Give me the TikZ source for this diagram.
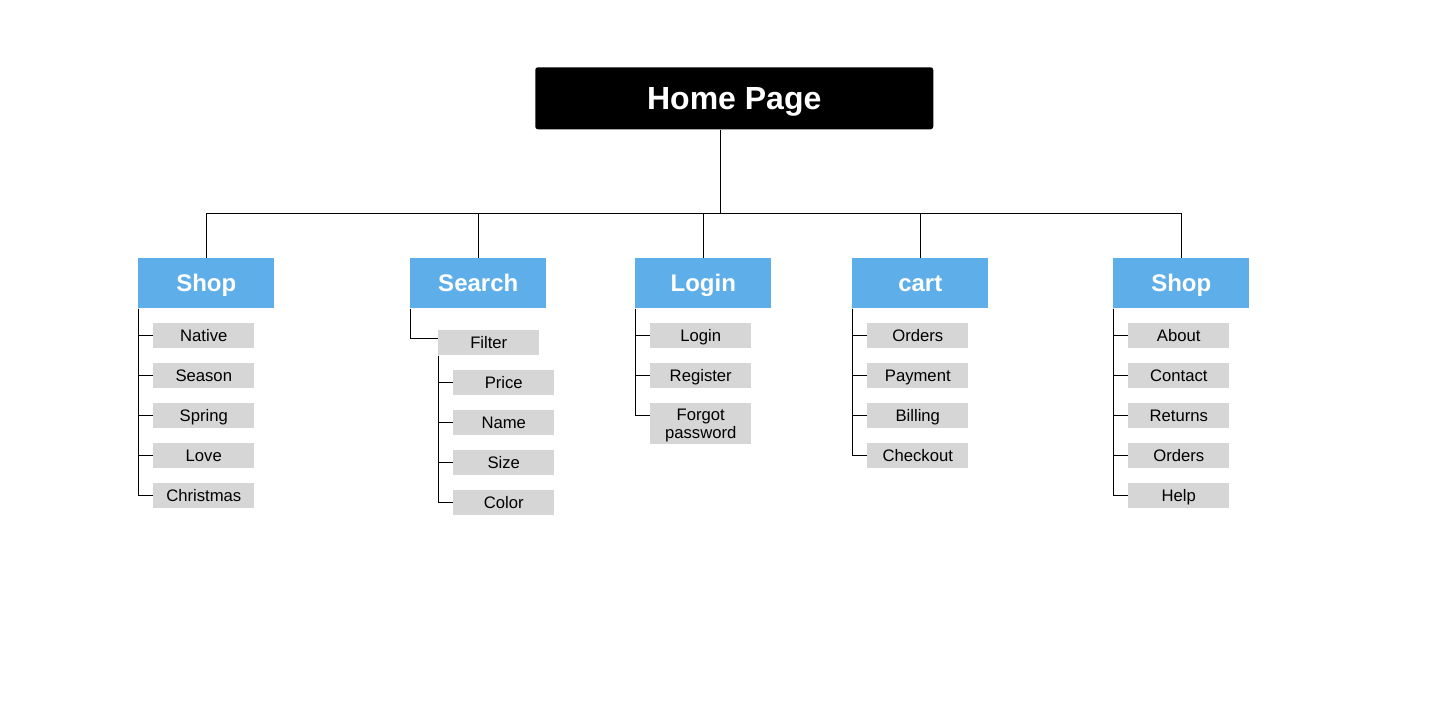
\documentclass[tikz,border=0pt]{standalone}
\usepackage{fontspec}
\setmainfont{Liberation Sans}
\usetikzlibrary{calc}
\definecolor{topblue}{HTML}{5EAEEA}
\definecolor{leafgray}{HTML}{D6D6D6}
\begin{document}
\begin{tikzpicture}[x=0.75pt,y=-0.75pt,
  homebox/.style={fill=black, rounded corners=2pt, text=white, font=\bfseries\fontsize{24}{28}\selectfont, minimum width=298.5pt, minimum height=46.5pt, inner sep=0pt, anchor=north west, text height=17.2pt, text depth=0pt},
  catbox/.style={fill=topblue, text=white, font=\bfseries\fontsize{18}{22}\selectfont, minimum width=102pt, minimum height=37.5pt, inner sep=0pt, anchor=north west, text height=12.9pt, text depth=0pt},
  leafbox/.style={fill=leafgray, text=black, font=\fontsize{12.5}{13.7}\selectfont, minimum width=75.75pt, minimum height=18.75pt, inner sep=0pt, anchor=north west, text height=8.95pt, text depth=0pt},
  link/.style={draw=black, line width=0.75pt}
]
\useasboundingbox (0,0) rectangle (1440,728);

% root
\node[homebox] (home) at (535,67) {Home Page};

% categories
\node[catbox] (shopA) at (138,258) {Shop};
\node[catbox] (search) at (410,258) {Search};
\node[catbox] (login) at (635,258) {Login};
\node[catbox] (cart) at (852,258) {cart};
\node[catbox] (shopB) at (1113,258) {Shop};

% Shop (left) leaves
\node[leafbox] (native) at (153,323) {Native};
\node[leafbox] (season) at (153,363) {Season};
\node[leafbox] (spring) at (153,403) {Spring};
\node[leafbox] (love) at (153,443) {Love};
\node[leafbox] (christmas) at (153,483) {Christmas};

% Search leaves
\node[leafbox] (filter) at (438,330) {Filter};
\node[leafbox] (price) at (453,370) {Price};
\node[leafbox] (name) at (453,410) {Name};
\node[leafbox] (size) at (453,450) {Size};
\node[leafbox] (color) at (453,490) {Color};

% Login leaves
\node[leafbox] (loginl) at (650,323) {Login};
\node[leafbox] (register) at (650,363) {Register};
\node[leafbox, minimum height=30.75pt, align=center, text height=22.65pt, text depth=0pt] (forgot) at (650,403) {Forgot\\password};

% cart leaves
\node[leafbox] (orders) at (867,323) {Orders};
\node[leafbox] (payment) at (867,363) {Payment};
\node[leafbox] (billing) at (867,403) {Billing};
\node[leafbox] (checkout) at (867,443) {Checkout};

% Shop (right) leaves
\node[leafbox] (about) at (1128,323) {About};
\node[leafbox] (contact) at (1128,363) {Contact};
\node[leafbox] (returns) at (1128,403) {Returns};
\node[leafbox] (orders2) at (1128,443) {Orders};
\node[leafbox] (help) at (1128,483) {Help};

% trunk and bus
\coordinate (trunk) at (720,213);
\draw[link] (home.south -| trunk) -- (trunk);
\draw[link] (shopA.north |- trunk) -- (shopB.north |- trunk);
\foreach \c in {shopA,search,login,cart,shopB}
  \draw[link] (\c.north) -- (\c.north |- trunk);

% leaf ticks
\foreach \l in {native,season,spring,love,christmas}
  \draw[link] (shopA.south west) |- (\l.west);
\draw[link] (search.south west) |- ($(filter.north west)+(0,8)$);
\foreach \l in {price,name,size,color}
  \draw[link] (filter.south west) |- (\l.west);
\foreach \l in {loginl,register}
  \draw[link] (login.south west) |- (\l.west);
\draw[link] (login.south west) |- ($(forgot.north west)+(0,12)$);
\foreach \l in {orders,payment,billing,checkout}
  \draw[link] (cart.south west) |- (\l.west);
\foreach \l in {about,contact,returns,orders2,help}
  \draw[link] (shopB.south west) |- (\l.west);
\end{tikzpicture}
\end{document}
